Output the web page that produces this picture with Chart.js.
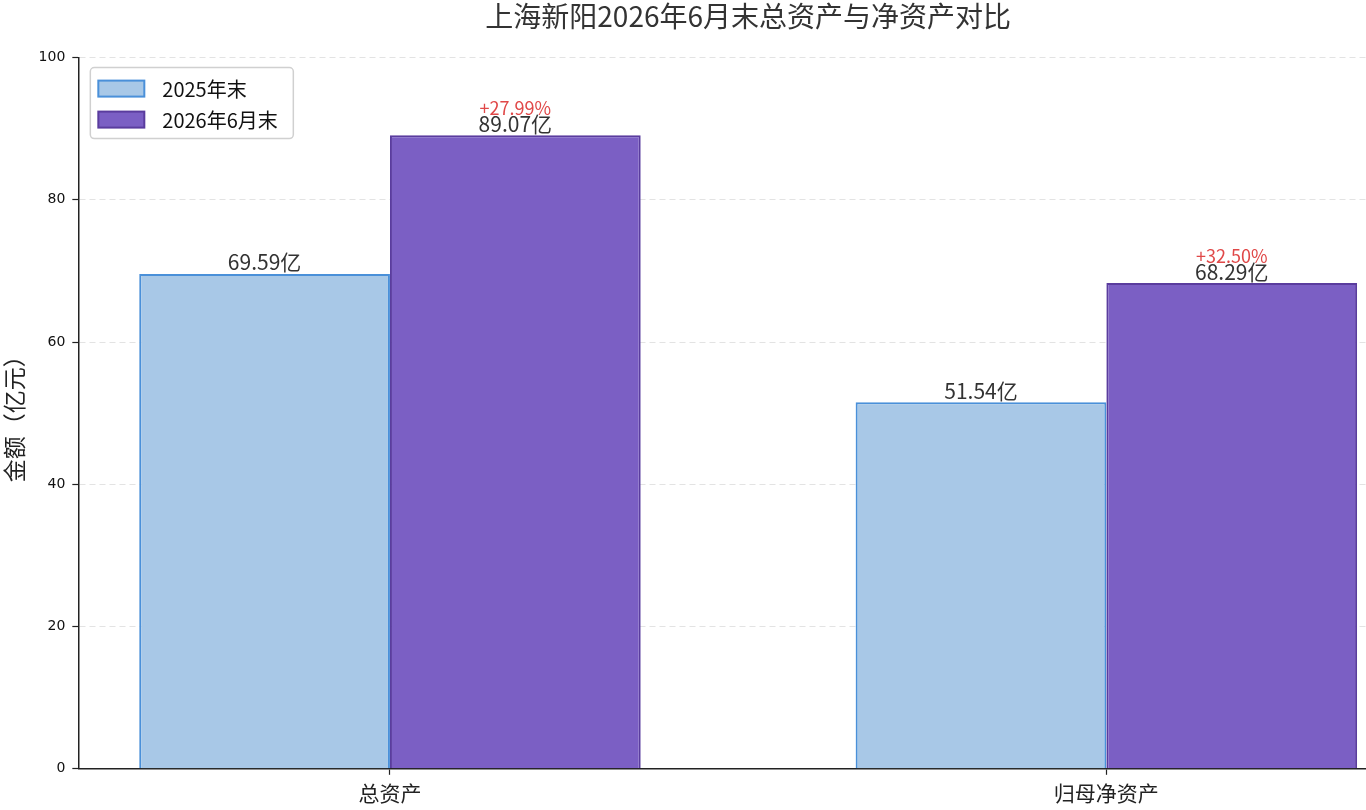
<!DOCTYPE html>
<html lang="zh">
  <head>
    <meta charset="UTF-8" />
    <title>上海新阳总资产与净资产对比</title>
    <style>
      html, body { margin: 0; padding: 0; background: #fff; overflow: hidden; }
      #wrap { width: 1418px; height: 810px; }
    </style>
  </head>
  <body>
    <div id="wrap"><canvas id="myChart"></canvas></div>

    <script src="https://cdn.jsdelivr.net/npm/chart.js@4.4.0/dist/chart.umd.min.js"></script>
    <script>
      const categories = ["总资产", "归母净资产"];
      const values2025 = [69.59, 51.54];
      const values2026 = [89.07, 68.29];
      const growth = ["+27.99%", "+32.50%"];
      const yTicks = [0, 20, 40, 60, 80, 100];

      const FONT = "'Noto Sans CJK SC', 'Noto Sans', sans-serif";

      // value and growth labels over each bar
      const barLabels = {
        id: "barLabels",
        afterDatasetsDraw(chart) {
          const ctx = chart.ctx;
          ctx.save();
          ctx.textAlign = "center";
          ctx.textBaseline = "bottom";
          chart.data.datasets.forEach((ds, di) => {
            chart.getDatasetMeta(di).data.forEach((bar, i) => {
              ctx.fillStyle = "#333";
              ctx.font = "21px " + FONT;
              ctx.fillText(ds.data[i].y.toFixed(2) + "亿", bar.x, bar.y - 1);
              if (di === 1) {
                ctx.fillStyle = "#e04848";
                ctx.font = "18px " + FONT;
                ctx.fillText(growth[i], bar.x, bar.y - 18);
              }
            });
          });
          ctx.restore();
        },
      };

      // legend box in the upper left of the plot
      const boxLegend = {
        id: "boxLegend",
        afterDraw(chart) {
          const ctx = chart.ctx;
          const x0 = chart.chartArea.left + 12;
          const y0 = chart.chartArea.top + 10;
          ctx.save();
          ctx.fillStyle = "rgba(255,255,255,0.85)";
          ctx.strokeStyle = "#d0d0d0";
          ctx.lineWidth = 1.5;
          ctx.beginPath();
          ctx.roundRect(x0, y0, 203, 71, 4);
          ctx.fill();
          ctx.stroke();
          ctx.font = "20px " + FONT;
          ctx.textBaseline = "middle";
          chart.data.datasets.forEach((ds, i) => {
            const y = y0 + 21 + i * 31;
            ctx.fillStyle = ds.backgroundColor;
            ctx.strokeStyle = ds.borderColor;
            ctx.lineWidth = 2;
            ctx.fillRect(x0 + 8, y - 8, 46, 16);
            ctx.strokeRect(x0 + 8, y - 8, 46, 16);
            ctx.fillStyle = "#111";
            ctx.fillText(ds.label, x0 + 72, y + 1);
          });
          ctx.restore();
        },
      };

      const ctx = document.getElementById("myChart").getContext("2d");
      const myChart = new Chart(ctx, {
        type: "bar",
        data: {
          datasets: [
            {
              label: "2025年末",
              backgroundColor: "#a8c8e7",
              borderColor: "#4a90d9",
              borderWidth: 2,
              data: categories.map((c, i) => ({ x: i, y: values2025[i] })),
            },
            {
              label: "2026年6月末",
              backgroundColor: "#7b5fc4",
              borderColor: "#5a3c9e",
              borderWidth: 2,
              data: categories.map((c, i) => ({ x: i, y: values2026[i] })),
            },
          ],
        },
        plugins: [barLabels, boxLegend],
        options: {
          responsive: true,
          maintainAspectRatio: false,
          animation: false,
          layout: { padding: { top: 0, right: 0, bottom: -2, left: 0 } },
          datasets: {
            bar: { categoryPercentage: 0.7, barPercentage: 1.0, grouped: true },
          },
          plugins: {
            legend: { display: false },
            tooltip: { enabled: false },
            title: {
              display: true,
              text: "上海新阳2026年6月末总资产与净资产对比",
              fullSize: false,
              color: "#333",
              font: { family: FONT, size: 28, weight: "normal" },
              padding: { top: 0, bottom: 24 },
            },
          },
          scales: {
            x: {
              type: "linear",
              offset: false,
              min: -0.435,
              max: 1.435,
              afterBuildTicks(scale) {
                scale.ticks = categories.map((c, i) => ({ value: i }));
              },
              ticks: {
                color: "#222",
                font: { family: FONT, size: 21 },
                padding: 6,
                callback: (v) => categories[v],
              },
              grid: {
                display: true,
                offset: false,
                drawOnChartArea: false,
                drawTicks: true,
                tickLength: 6,
                tickColor: "#222",
                tickWidth: 1.2,
              },
              border: { display: true, color: "#222", width: 1.5 },
            },
            y: {
              min: 0,
              max: 100,
              z: 1,
              afterBuildTicks(scale) {
                scale.ticks = yTicks.map((v) => ({ value: v }));
              },
              title: {
                display: true,
                text: "金额（亿元）",
                color: "#222",
                font: { family: FONT, size: 23 },
                padding: { top: 0, bottom: 4 },
              },
              ticks: {
                color: "#111",
                font: { family: "'DejaVu Sans', sans-serif", size: 14 },
                padding: 7,
              },
              grid: {
                color: "rgba(200,200,200,0.5)",
                lineWidth: 1,
                tickLength: 6,
                tickColor: "#222",
                tickWidth: 1.2,
                tickBorderDash: [],
              },
              border: { display: true, color: "#222", width: 1.5, dash: [6, 4] },
            },
          },
        },
      });
    </script>
  </body>
</html>
